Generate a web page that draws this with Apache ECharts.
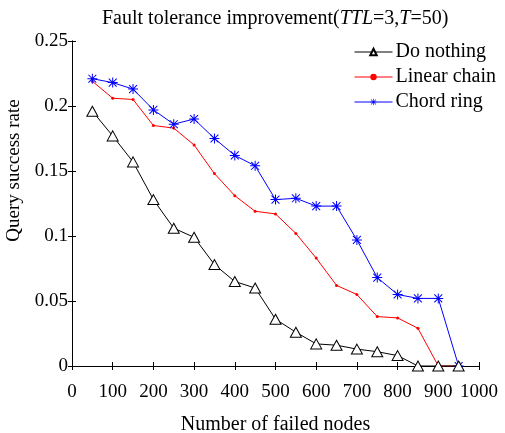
<!DOCTYPE html>
<html>
<head>
<meta charset="utf-8">
<script src="https://cdn.jsdelivr.net/npm/echarts@6/dist/echarts.min.js"></script>
<style>
html, body { margin: 0; padding: 0; background: #fff; }
#chart { width: 505px; height: 433px; }
</style>
</head>
<body>
<div id="chart"></div>
<script>
// failed nodes (x)
var failedNodes = [50, 100, 150, 200, 250, 300, 350, 400, 450, 500, 550, 600, 650, 700, 750, 800, 850, 900, 950];
var doNothing = [0.196, 0.177, 0.157, 0.128, 0.106, 0.099, 0.078, 0.065, 0.060, 0.036, 0.026, 0.017, 0.016, 0.013, 0.011, 0.008, 0, 0, 0];
var linearChain = [0.219, 0.206, 0.205, 0.185, 0.183, 0.170, 0.148, 0.131, 0.119, 0.117, 0.102, 0.083, 0.062, 0.055, 0.038, 0.037, 0.029, 0, 0];
var chordRing = [0.221, 0.218, 0.213, 0.197, 0.186, 0.190, 0.175, 0.162, 0.154, 0.128, 0.129, 0.123, 0.123, 0.097, 0.068, 0.055, 0.052, 0.052, 0];
var seriesNames = ['Do nothing', 'Linear chain', 'Chord ring'];

var FONT = '"Liberation Serif", "DejaVu Serif", serif';
var starPath = 'path://M9 0L11 0L11 20L9 20Z M0 9L20 9L20 11L0 11Z M1.4 2.8L2.8 1.4L18.6 17.2L17.2 18.6Z M17.2 1.4L18.6 2.8L2.8 18.6L1.4 17.2Z';

function pairs(ys){
	var out = [];
	for (var i = 0; i < failedNodes.length; i++) {
		out.push([failedNodes[i], ys[i]]);
	}
	return out;
}

var chart = echarts.init(document.getElementById('chart'));

var option = {
	animation: false,
	backgroundColor: '#fff',
	title: {
		left: 97,
		top: 4,
		text: '{a|Fault tolerance improvement(}{i|TTL}{a|=3,}{i|T}{a|=50)}',
		textStyle: {
			rich: {
				a: { fontFamily: FONT, fontSize: 20, color: '#000', fontWeight: 'normal' },
				i: { fontFamily: FONT, fontSize: 20, color: '#000', fontWeight: 'normal', fontStyle: 'italic' }
			}
		}
	},
	legend: {
		orient: 'vertical',
		left: 354,
		top: 42,
		padding: 0,
		itemWidth: 38,
		itemHeight: 8,
		itemGap: 5,
		data: seriesNames,
		lineStyle: { width: 1 },
		textStyle: { fontFamily: FONT, fontSize: 20, color: '#000', padding: [0, 0, 0, -2] }
	},
	grid: { left: 72, right: 26, top: 41, bottom: 67, containLabel: false, outerBoundsMode: 'none' },
	xAxis: [{
		type: 'value',
		min: 0, max: 1000, interval: 100,
		name: 'Number of failed nodes',
		nameLocation: 'middle',
		nameGap: 49,
		nameTextStyle: { fontFamily: FONT, fontSize: 20, color: '#000' },
		axisLine: { lineStyle: { color: '#000', width: 1 } },
		axisTick: { inside: true, length: 4, lineStyle: { color: '#000' } },
		axisLabel: {
			fontFamily: FONT, fontSize: 19, color: '#000', margin: 17,
			formatter: function(v){ return String(v); }
		},
		splitLine: { show: false }
	}, {
		type: 'value',
		position: 'top',
		min: 0, max: 1000, interval: 100,
		axisLine: { lineStyle: { color: '#000', width: 1 } },
		axisTick: { inside: true, length: 4, lineStyle: { color: '#000' } },
		axisLabel: { show: false },
		splitLine: { show: false }
	}],
	yAxis: [{
		type: 'value',
		min: 0, max: 0.25, interval: 0.05,
		name: 'Query success rate',
		nameLocation: 'middle',
		nameGap: 44,
		nameTextStyle: { fontFamily: FONT, fontSize: 19, color: '#000', padding: [0, 0, 0, 66] },
		axisLine: { show: true, lineStyle: { color: '#000', width: 1 } },
		axisTick: { show: true, inside: true, length: 4, lineStyle: { color: '#000' } },
		axisLabel: { fontFamily: FONT, fontSize: 19, color: '#000', margin: 4 },
		splitLine: { show: false }
	}, {
		type: 'value',
		position: 'right',
		min: 0, max: 0.25, interval: 0.05,
		axisLine: { show: true, lineStyle: { color: '#000', width: 1 } },
		axisTick: { show: true, inside: true, length: 4, lineStyle: { color: '#000' } },
		axisLabel: { show: false },
		splitLine: { show: false }
	}],
	series: [{
		name: seriesNames[0],
		type: 'line',
		data: pairs(doNothing),
		symbol: 'triangle',
		symbolSize: [11, 10],
		lineStyle: { color: '#000', width: 1 },
		itemStyle: { color: '#fff', borderColor: '#000', borderWidth: 1 },
		z: 3
	}, {
		name: seriesNames[1],
		type: 'line',
		data: pairs(linearChain),
		symbol: 'circle',
		symbolSize: 3,
		lineStyle: { color: '#ff0000', width: 1 },
		itemStyle: { color: '#ff0000', borderWidth: 0 },
		z: 2
	}, {
		name: seriesNames[2],
		type: 'line',
		data: pairs(chordRing),
		symbol: starPath,
		symbolSize: 10,
		lineStyle: { color: '#0000ff', width: 1 },
		itemStyle: { color: '#0000ff', borderWidth: 0 },
		z: 2
	}]
};

chart.setOption(option);
</script>
</body>
</html>
